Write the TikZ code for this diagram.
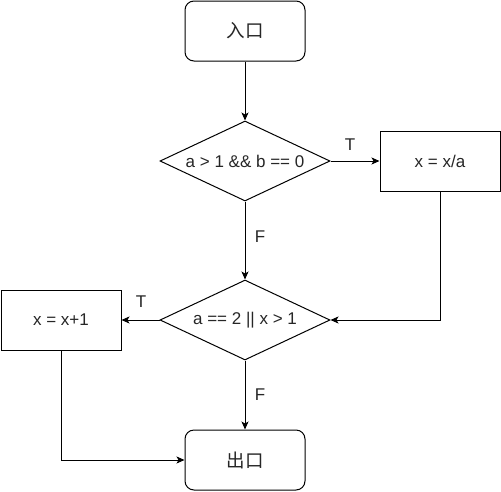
\documentclass[tikz,border=0pt]{standalone}
\usepackage{fontspec}
\setmainfont{Liberation Sans}
\newfontfamily\cjk{Noto Sans CJK SC}
\usetikzlibrary{shapes.geometric,arrows.meta}
\begin{document}
\begin{tikzpicture}[x=1pt,y=-1pt,
  every node/.style={font=\fontsize{17}{20}\selectfont,text=black!85},
  cjktext/.style={font=\fontsize{18.5}{22}\selectfont\cjk},
  proc/.style={draw=black,line width=1pt,minimum width=120pt,minimum height=60pt,inner sep=0pt},
  term/.style={proc,rounded corners=9pt},
  decision/.style={draw=black,line width=1pt,diamond,aspect=2.125,minimum width=170pt,minimum height=80pt,inner sep=0pt},
  conn/.style={draw,line width=1pt,-{Stealth[length=8pt,width=7pt,inset=2pt]}},
  lbl/.style={inner sep=0pt}]
\useasboundingbox (0,0) rectangle (501,491);
\node[term,cjktext] (in) at (245,31) {入口};
\node[decision] (d1) at (245,161) {a > 1 \&\& b == 0};
\node[proc] (b1) at (440,161) {x = x/a};
\node[decision] (d2) at (245,320) {a == 2 || x > 1};
\node[proc] (b2) at (61,320) {x = x+1};
\node[term,cjktext] (out) at (245,460) {出口};
\coordinate (c1) at (440,320);
\coordinate (c2) at (61,460);
\draw[conn] (in.south) -- (d1.north);
\draw[conn] (d1.east) -- (b1.west);
\draw[conn] (d1.south) -- (d2.north);
\draw[conn] (b1.south) -- (c1) -- (d2.east);
\draw[conn] (d2.west) -- (b2.east);
\draw[conn] (d2.south) -- (out.north);
\draw[conn] (b2.south) -- (c2) -- (out.west);
\node[lbl] (t1) at (350,145) {T};
\node[lbl] (f1) at (260,237) {F};
\node[lbl] (t2) at (141,302) {T};
\node[lbl] (f2) at (260,395) {F};
\end{tikzpicture}
\end{document}
